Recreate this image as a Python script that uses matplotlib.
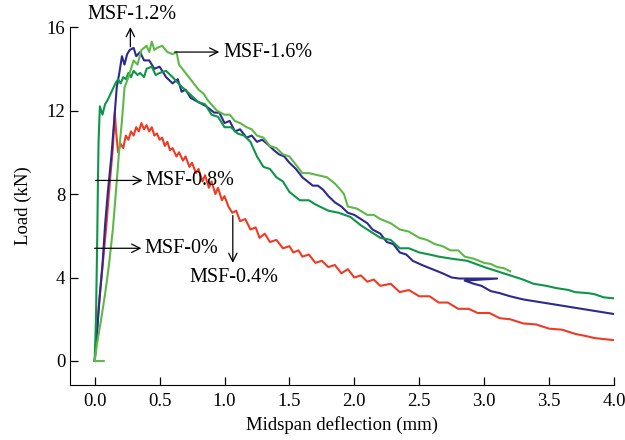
import matplotlib
matplotlib.use("Agg")
import matplotlib.pyplot as plt

plt.rcParams['font.family'] = ['Liberation Serif', 'DejaVu Serif']

# MSF-0.4% (red)
red_x = [0, 0.03, 0.06, 0.09, 0.12, 0.14, 0.155, 0.165, 0.18, 0.2, 0.22, 0.24, 0.26, 0.28, 0.3, 0.32,
         0.34, 0.36, 0.38, 0.40, 0.42, 0.44, 0.46, 0.48, 0.5, 0.52, 0.54, 0.56, 0.58, 0.60, 0.63, 0.65,
         0.68, 0.70, 0.73, 0.75, 0.78, 0.80, 0.83, 0.85, 0.88, 0.90, 0.93, 0.95, 0.98, 1.00, 1.03, 1.06,
         1.09, 1.12, 1.16, 1.2, 1.24, 1.27, 1.31, 1.35, 1.4, 1.45, 1.5, 1.53, 1.57, 1.6, 1.65, 1.7, 1.75,
         1.8, 1.85, 1.9, 1.95, 2.0, 2.05, 2.1, 2.15, 2.2, 2.28, 2.35, 2.42, 2.5, 2.58, 2.65, 2.72, 2.8,
         2.88, 2.95, 3.04, 3.12, 3.2, 3.3, 3.4, 3.5, 3.6, 3.7, 3.78, 3.85, 3.92, 4.0]
red_y = [0, 2.5, 4.5, 6.5, 8.8, 10.2, 11.9, 11.0, 10.0, 10.4, 10.2, 10.8, 10.6, 11.0, 10.8, 11.2,
         11.0, 11.4, 11.1, 11.3, 11.0, 11.2, 10.8, 10.9, 10.6, 10.7, 10.3, 10.5, 10.1, 10.2, 9.8, 10.0,
         9.6, 9.8, 9.3, 9.5, 9.0, 9.2, 8.6, 8.9, 8.3, 8.6, 8.0, 8.3, 7.7, 7.9, 7.4, 7.1,
         7.2, 6.7, 6.8, 6.3, 6.4, 5.9, 6.1, 5.7, 5.8, 5.4, 5.5, 5.2, 5.3, 5.0, 5.1, 4.7, 4.8,
         4.5, 4.6, 4.2, 4.4, 4.0, 4.1, 3.8, 3.9, 3.6, 3.7, 3.3, 3.4, 3.1, 3.1, 2.8, 2.8, 2.5,
         2.5, 2.3, 2.3, 2.05, 2.0, 1.8, 1.75, 1.55, 1.5, 1.3, 1.2, 1.1, 1.05, 1.0]

# MSF-1.2% (blue)
blue_x = [0, 0.02, 0.04, 0.06, 0.08, 0.1, 0.13, 0.15, 0.17, 0.19, 0.21, 0.23, 0.25, 0.27, 0.3, 0.32,
          0.35, 0.38, 0.42, 0.46, 0.5, 0.55, 0.6, 0.64, 0.67, 0.7, 0.74, 0.8, 0.86, 0.92, 0.96, 1.0,
          1.04, 1.08, 1.12, 1.17, 1.21, 1.25, 1.29, 1.33, 1.38, 1.42, 1.46, 1.5, 1.55, 1.6, 1.64, 1.68,
          1.72, 1.76, 1.8, 1.85, 1.9, 1.95, 2.0, 2.05, 2.1, 2.14, 2.2, 2.25, 2.3, 2.35, 2.4, 2.45, 2.52,
          2.6, 2.68, 2.75, 2.81, 3.1, 2.85, 2.92, 2.98, 3.05, 3.12, 3.2, 3.3, 3.4, 3.5, 3.6, 3.7, 3.8,
          3.9, 4.0]
blue_y = [0, 1.5, 3.2, 4.6, 6.5, 8.0, 9.9, 11.5, 13.1, 13.8, 14.6, 14.2, 14.7, 14.9, 15.0, 14.6,
          14.8, 14.4, 14.4, 14.0, 14.1, 13.6, 13.3, 13.5, 12.9, 13.0, 12.6, 12.4, 12.2, 11.9, 11.9, 11.4,
          11.5, 11.0, 11.1, 10.7, 10.8, 10.5, 10.6, 10.4, 10.1, 9.9, 9.8, 9.5, 9.2, 8.8, 8.6, 8.4,
          8.4, 8.2, 7.9, 7.6, 7.4, 7.1, 7.0, 6.8, 6.6, 6.3, 6.1, 5.7, 5.6, 5.2, 5.1, 4.8, 4.6,
          4.4, 4.2, 4.0, 3.95, 3.95, 3.85, 3.7, 3.6, 3.35, 3.25, 3.1, 2.95, 2.85, 2.75, 2.65, 2.55, 2.45,
          2.35, 2.25]

# MSF-0.8% (dark green)
dg_x = [0, 0.01, 0.015, 0.02, 0.025, 0.03, 0.04, 0.06, 0.08, 0.1, 0.13, 0.16, 0.18, 0.2, 0.22, 0.24,
        0.26, 0.28, 0.3, 0.33, 0.35, 0.38, 0.4, 0.44, 0.47, 0.5, 0.55, 0.6, 0.66, 0.73, 0.8, 0.85, 0.9,
        0.95, 1.0, 1.05, 1.1, 1.15, 1.2, 1.25, 1.3, 1.35, 1.4, 1.45, 1.5, 1.58, 1.65, 1.7, 1.8, 1.88,
        1.97, 2.05, 2.1, 2.2, 2.28, 2.35, 2.42, 2.5, 2.58, 2.65, 2.75, 2.87, 3.0, 3.1, 3.2, 3.3, 3.38,
        3.48, 3.55, 3.65, 3.7, 3.8, 3.85, 3.92, 4.0]
dg_y = [0, 2.0, 4.0, 6.0, 8.5, 10.5, 12.2, 11.8, 12.3, 12.5, 12.9, 13.3, 13.5, 13.3, 13.6, 13.5,
        13.8, 13.6, 13.9, 13.7, 13.8, 13.6, 14.0, 14.1, 13.7, 13.8, 13.9, 13.6, 13.2, 12.8, 12.4, 12.3, 11.8,
        11.7, 11.2, 11.2, 10.9, 10.8, 10.5, 9.8, 9.3, 9.2, 8.8, 8.6, 8.1, 7.7, 7.7, 7.5, 7.2, 7.1,
        6.9, 6.5, 6.3, 5.9, 5.8, 5.4, 5.4, 5.2, 5.1, 5.0, 4.9, 4.8, 4.5, 4.3, 4.1, 3.9, 3.7,
        3.6, 3.5, 3.4, 3.3, 3.25, 3.2, 3.05, 3.0]

# MSF-1.6% (light green)
lg_x = [0.07, 0.0, 0.02, 0.05, 0.08, 0.11, 0.14, 0.17, 0.19, 0.21, 0.23, 0.26, 0.3, 0.33, 0.36, 0.4,
        0.42, 0.44, 0.46, 0.48, 0.52, 0.56, 0.6, 0.63, 0.65, 0.7, 0.75, 0.8, 0.84, 0.87, 0.94, 1.0,
        1.04, 1.08, 1.12, 1.17, 1.21, 1.25, 1.3, 1.35, 1.4, 1.45, 1.5, 1.55, 1.6, 1.65, 1.72, 1.79,
        1.85, 1.88, 1.92, 1.95, 2.02, 2.1, 2.15, 2.2, 2.28, 2.35, 2.42, 2.5, 2.56, 2.62, 2.68, 2.74, 2.8,
        2.85, 2.92, 3.0, 3.05, 3.1, 3.15, 3.2]
lg_y = [0, 0, 0.9, 2.0, 3.2, 4.6, 6.3, 8.6, 10.2, 11.5, 13.1, 13.6, 14.4, 14.2, 14.9, 15.1,
        14.8, 15.3, 14.9, 15.0, 15.1, 14.8, 14.7, 14.8, 14.2, 13.8, 13.4, 13.0, 12.8, 12.5, 12.0, 11.8,
        11.8, 11.5, 11.4, 11.2, 11.1, 10.8, 10.7, 10.3, 10.2, 9.9, 9.8, 9.4, 9.0, 9.0, 8.9, 8.8,
        8.5, 8.3, 8.0, 7.4, 7.3, 7.0, 7.0, 6.8, 6.6, 6.3, 6.2, 5.9, 5.8, 5.6, 5.5, 5.3, 5.3,
        5.0, 4.9, 4.7, 4.65, 4.5, 4.45, 4.3]

x_ticks = [0.0, 0.5, 1.0, 1.5, 2.0, 2.5, 3.0, 3.5, 4.0]
y_ticks = [0, 4, 8, 12, 16]

fig = plt.figure(figsize=(6.25, 4.4), dpi=100)
ax = fig.add_axes([0.112, 0.125, 0.8704, 0.8136])

ax.plot(red_x, red_y, color='#ee3b24', lw=1.5)
ax.plot(blue_x, blue_y, color='#2d2a8e', lw=1.5)
ax.plot(dg_x, dg_y, color='#0e9648', lw=1.5)
ax.plot(lg_x, lg_y, color='#5db947', lw=1.5)

ax.set_xlim(-0.19, 4.0)
ax.set_ylim(-1.15, 16)
ax.set_xticks(x_ticks)
ax.set_xticklabels([f"{v:.1f}" for v in x_ticks])
ax.set_yticks(y_ticks)
for s in ['top', 'right']:
    ax.spines[s].set_visible(False)
ax.spines['left'].set_bounds(-1.15, 16)
ax.tick_params(direction='in', length=6, labelsize=13.5, width=0.9)
ax.tick_params(axis='x', pad=6)
ax.set_xlabel('Midspan deflection (mm)', fontsize=13.5, labelpad=4)
ax.set_ylabel('Load (kN)', fontsize=13.5, labelpad=10)

arrow = dict(arrowstyle='->', color='black', lw=0.9, mutation_scale=15, shrinkA=0, shrinkB=0)
fs = 14.5
# MSF-1.2%
ax.annotate('', xy=(0.275, 16.0), xytext=(0.275, 15.05), arrowprops=arrow, annotation_clip=False)
ax.text(0.285, 16.6, 'MSF-1.2%', ha='center', va='center', fontsize=fs, clip_on=False)
# MSF-1.6%
ax.annotate('', xy=(0.96, 14.8), xytext=(0.617, 14.8), arrowprops=arrow)
ax.text(0.99, 14.8, 'MSF-1.6%', ha='left', va='center', fontsize=fs)
# MSF-0.8%
ax.annotate('', xy=(0.37, 8.65), xytext=(0.008, 8.65), arrowprops=arrow)
ax.text(0.39, 8.65, 'MSF-0.8%', ha='left', va='center', fontsize=fs)
# MSF-0%
ax.annotate('', xy=(0.36, 5.4), xytext=(0.0, 5.4), arrowprops=arrow)
ax.text(0.385, 5.4, 'MSF-0%', ha='left', va='center', fontsize=fs)
# MSF-0.4%
ax.annotate('', xy=(1.064, 4.7), xytext=(1.064, 6.97), arrowprops=arrow)
ax.text(1.07, 4.0, 'MSF-0.4%', ha='center', va='center', fontsize=fs)

fig.savefig('out.png', dpi=100)
